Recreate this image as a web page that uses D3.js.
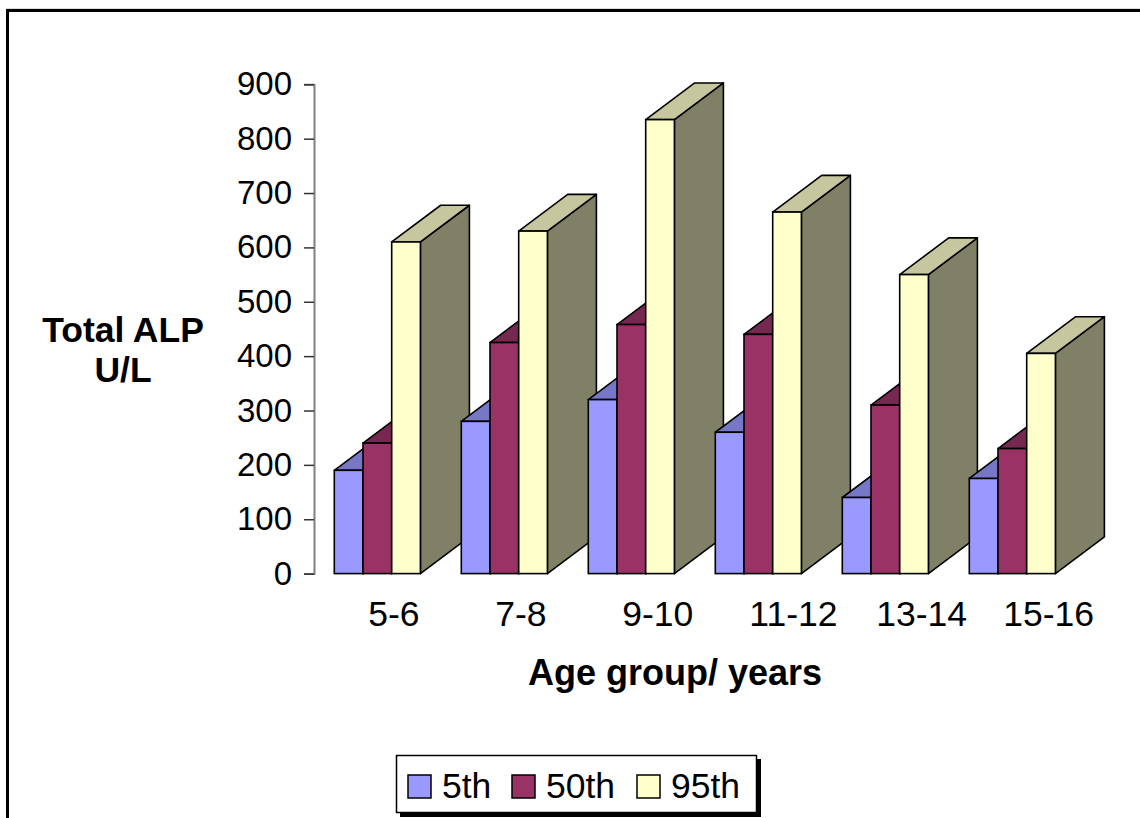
<!DOCTYPE html>
<html>
<head>
<meta charset="utf-8">
<script src="https://cdn.jsdelivr.net/npm/d3@7"></script>
<style>
  html, body { margin: 0; padding: 0; background: #fff; }
  svg { display: block; font-family: "Liberation Sans", Arial, sans-serif; }
</style>
</head>
<body>
<svg id="chart" width="1140" height="818"></svg>
<script>
// Age groups and percentile series (Total ALP, U/L)
const categories = ["5-6", "7-8", "9-10", "11-12", "13-14", "15-16"];
const seriesNames = ["5th", "50th", "95th"];
const p5  = [190, 280, 320, 260, 140, 175];
const p50 = [240, 425, 458, 440, 310, 230];
const p95 = [610, 630, 835, 665, 550, 405];
const yTicks = [0, 100, 200, 300, 400, 500, 600, 700, 800, 900];

const seriesValues = [p5, p50, p95];
const frontColors = ["#9999FF", "#993366", "#FFFFCC"];

const svg = d3.select("#chart");

// outer frame
svg.append("line").attr("x1", 6).attr("x2", 1140).attr("y1", 9).attr("y2", 9)
  .attr("stroke", "#bbb").attr("stroke-width", 1);
svg.append("rect").attr("x", 7.5).attr("y", 10.5).attr("width", 1150).attr("height", 830)
  .attr("fill", "none").attr("stroke", "#000").attr("stroke-width", 3);

const y = d3.scaleLinear().domain([0, 900]).range([573.6, 84.3]);
const x = d3.scaleBand().domain(categories).range([334.3, 334.3 + 6 * 127]).padding(0);
const sub = d3.scaleBand().domain(seriesNames).range([0, 86.1]).padding(0);

// projection offset of the bar depth
const dx = 49, dy = -36.7;

function shade(c, k) {
  const r = d3.rgb(c);
  return d3.rgb(r.r * k, r.g * k, r.b * k).formatHex();
}

const bars = [];
categories.forEach((cat, i) => {
  seriesNames.forEach((s, j) => {
    bars.push({ cat, s, j, v: seriesValues[j][i] });
  });
});

// bars painted back-to-front: left group first, then series order within a group
const gBars = svg.append("g");
bars.forEach(b => {
  const x0 = x(b.cat) + sub(b.s);
  const x1 = x0 + sub.bandwidth();
  const yt = y(b.v), yb = y(0);
  const g = gBars.append("g");
  const line = d3.line();
  // side face
  g.append("path")
    .attr("d", line([[x1, yt], [x1 + dx, yt + dy], [x1 + dx, yb + dy], [x1, yb]]) + "Z")
    .attr("fill", shade(frontColors[b.j], 0.5)).attr("stroke", "#000").attr("stroke-width", 1.6)
    .attr("stroke-linejoin", "round");
  // top face
  g.append("path")
    .attr("d", line([[x0, yt], [x0 + dx, yt + dy], [x1 + dx, yt + dy], [x1, yt]]) + "Z")
    .attr("fill", shade(frontColors[b.j], 0.78)).attr("stroke", "#000").attr("stroke-width", 1.6)
    .attr("stroke-linejoin", "round");
  // front face
  g.append("rect")
    .attr("x", x0).attr("y", yt).attr("width", x1 - x0).attr("height", yb - yt)
    .attr("fill", frontColors[b.j]).attr("stroke", "#000").attr("stroke-width", 1.6);
});

// value axis
const yAxis = d3.axisLeft(y).tickValues(yTicks).tickSize(10).tickPadding(12).tickFormat(d3.format("d"));
const gy = svg.append("g").attr("transform", "translate(314,0)").call(yAxis);
gy.select(".domain").attr("stroke", "#808080").attr("stroke-width", 2);
gy.selectAll(".tick line").attr("stroke", "#333").attr("stroke-width", 1.5);
gy.selectAll(".tick text").attr("font-size", 33).attr("fill", "#000")
  .attr("font-family", "Liberation Sans, Arial, sans-serif");

// category labels
svg.append("g").selectAll("text").data(categories).join("text")
  .attr("x", d => x(d) + 34)
  .attr("y", 626)
  .attr("font-size", 35.5)
  .attr("fill", "#000")
  .text(d => d);

// axis titles
const yTitle = svg.append("text").attr("text-anchor", "middle").attr("font-weight", "bold")
  .attr("font-size", 35.5).attr("fill", "#000");
yTitle.append("tspan").attr("x", 123).attr("y", 342).text("Total ALP");
yTitle.append("tspan").attr("x", 123).attr("y", 382).text("U/L");

svg.append("text").attr("x", 675).attr("y", 685).attr("text-anchor", "middle")
  .attr("font-weight", "bold").attr("font-size", 36).attr("fill", "#000")
  .text("Age group/ years");

// legend
const lg = svg.append("g");
lg.append("rect").attr("x", 400).attr("y", 759).attr("width", 361).attr("height", 58).attr("fill", "#000");
lg.append("rect").attr("x", 396.5).attr("y", 755.5).attr("width", 360).attr("height", 57)
  .attr("fill", "#fff").attr("stroke", "#000").attr("stroke-width", 1.5);
const legendX = [408, 512, 637];
seriesNames.forEach((s, j) => {
  lg.append("rect").attr("x", legendX[j]).attr("y", 775).attr("width", 23).attr("height", 23)
    .attr("fill", frontColors[j]).attr("stroke", "#000").attr("stroke-width", 1.5);
  lg.append("text").attr("x", legendX[j] + 34).attr("y", 798).attr("font-size", 35.5)
    .attr("fill", "#000").text(s);
});
</script>
</body>
</html>
